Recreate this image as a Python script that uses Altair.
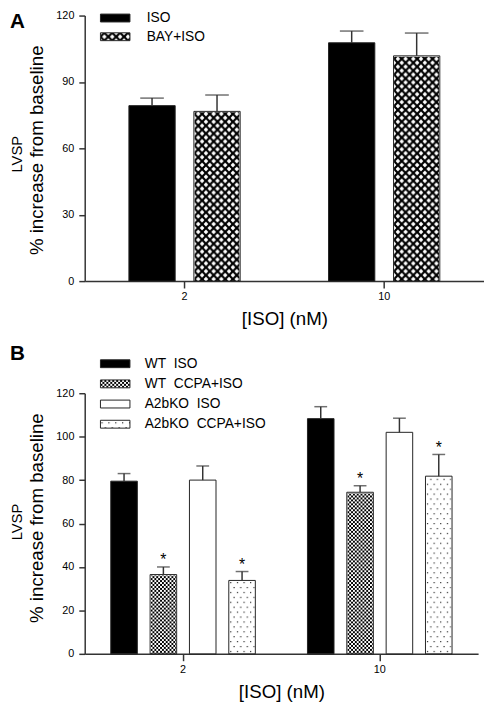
import base64
import altair as alt
import pandas as pd

FONT = "Liberation Sans"
AXC = "#333333"

# ---------------- data ----------------
conc = ["2", "10"]

a_series = ["ISO", "BAY+ISO"]
a_labels = ["ISO", "BAY+ISO"]
a_mean = {"ISO": [79.3, 107.7], "BAY+ISO": [76.7, 101.8]}
a_err = {"ISO": [82.7, 113.0], "BAY+ISO": [84.1, 112.1]}

b_series = ["WT ISO", "WT CCPA+ISO", "A2bKO ISO", "A2bKO CCPA+ISO"]
b_labels = ["WT\u00a0\u00a0ISO", "WT\u00a0\u00a0CCPA+ISO", "A2bKO\u00a0\u00a0ISO", "A2bKO\u00a0\u00a0CCPA+ISO"]
b_mean = {"WT ISO": [79.5, 108.3], "WT CCPA+ISO": [36.5, 74.4],
          "A2bKO ISO": [80.0, 102.0], "A2bKO CCPA+ISO": [33.8, 81.8]}
b_err = {"WT ISO": [83.0, 113.8], "WT CCPA+ISO": [40.0, 77.4],
         "A2bKO ISO": [86.5, 108.5], "A2bKO CCPA+ISO": [37.9, 91.8]}
b_sig = {"WT ISO": [False, False], "WT CCPA+ISO": [True, True],
         "A2bKO ISO": [False, False], "A2bKO CCPA+ISO": [True, True]}

a_ticks = [0, 30, 60, 90, 120]
b_ticks = [0, 20, 40, 60, 80, 100, 120]


# ---------------- fill patterns (SVG images) ----------------
def pattern_url(tile, tw, th, w, h):
    svg = (f'<svg xmlns="http://www.w3.org/2000/svg" width="{w}" height="{h}">'
           f'<defs><pattern id="p" width="{tw}" height="{th}" patternUnits="userSpaceOnUse">'
           f'{tile}</pattern></defs><rect width="{w}" height="{h}" fill="url(#p)"/></svg>')
    return "data:image/svg+xml;base64," + base64.b64encode(svg.encode()).decode()


CROSS = ('<rect width="8" height="8" fill="#000"/>'
         '<path d="M4,1.6L6.4,4L4,6.4L1.6,4Z M0,0H2.4L0,2.4Z M8,0V2.4L5.6,0Z '
         'M0,8V5.6L2.4,8Z M8,8H5.6L8,5.6Z" fill="#fff"/>')
CHECK = ('<rect width="4" height="4" fill="#fff"/>'
         '<rect width="2" height="2" fill="#000"/><rect x="2" y="2" width="2" height="2" fill="#000"/>')
DOTS = ('<rect width="7" height="10" fill="#fff"/>'
        '<rect x="1" y="2" width="1.2" height="1.2" fill="#222"/>'
        '<rect x="4.5" y="7" width="1.2" height="1.2" fill="#222"/>')


def build_df(series, mean, err, sig, pats):
    rows = []
    for s in series:
        for i, c in enumerate(conc):
            rows.append({"conc": c, "series": s, "mean": mean[s][i], "err": err[s][i],
                         "sig": bool(sig[s][i]) if sig else False,
                         "pat": pats.get(s, ""), "zero": 0, "top": 120})
    return pd.DataFrame(rows)


one = pd.DataFrame({"k": [0]})


def panel(df, series, labels, fills, legend_pats, W, H, bw, cap, sub_pi, sub_po,
          ticks, letter, leg_x, leg_tx, leg_y0, leg_dy, ytitle_y):
    xs = alt.Scale(domain=conc, paddingInner=0, paddingOuter=0)
    xax = alt.Axis(title="[ISO] (nM)", titleFont=FONT, titleFontSize=19, titleFontWeight="normal",
                   titleColor="#000", titlePadding=8, labelAngle=0, labelFont=FONT, labelFontSize=11,
                   labelColor="#000", labelPadding=3, tickSize=7, tickColor=AXC, tickWidth=1.5,
                   domainColor=AXC, domainWidth=1.5)
    yax = alt.Axis(values=ticks, title=None, grid=False, labelFont=FONT, labelFontSize=11,
                   labelColor="#000", labelPadding=5, tickSize=6, tickColor=AXC, tickWidth=1.5,
                   domainColor=AXC, domainWidth=1.5)
    ys = alt.Scale(domain=[0, 120], nice=False, zero=True)
    X = alt.X("conc:N", sort=conc, scale=xs, axis=xax)
    XO = alt.XOffset("series:N", sort=series,
                     scale=alt.Scale(domain=series, paddingInner=sub_pi, paddingOuter=sub_po))

    def Y(f):
        return alt.Y(f, type="quantitative", scale=ys, axis=yax)

    base = alt.Chart(df)
    patd = base.transform_filter("datum.pat != ''")

    img = patd.mark_image(width=bw - 1, height=H, align="center", baseline="bottom", aspect=False).encode(
        x=X, xOffset=XO, y=Y("zero"), url=alt.Url("pat:N"))
    cover = patd.mark_bar(fill="white", stroke="white", strokeWidth=2).encode(
        x=X, xOffset=XO, y=Y("mean"), y2="top:Q")
    bars = base.mark_bar(stroke="#222", strokeWidth=1).encode(
        x=X, xOffset=XO, y=Y("mean"),
        fill=alt.Fill("series:N", scale=alt.Scale(domain=series, range=fills), legend=None))
    errl = base.mark_rule(color=AXC, strokeWidth=1.5).encode(
        x=X, xOffset=XO, y=Y("mean"), y2="err:Q")
    capm = base.mark_tick(color=AXC, thickness=1.5, size=cap).encode(
        x=X, xOffset=XO, y=Y("err"))
    star = base.transform_filter("datum.sig").mark_text(
        text="*", font=FONT, fontSize=16, dy=-7, baseline="middle", color="#000").encode(
        x=X, xOffset=XO, y=Y("err"))

    layers = [img, cover, bars, errl, capm, star]

    # legend
    o = alt.Chart(one)
    for i, (s, lab) in enumerate(zip(series, labels)):
        yc = leg_y0 + i * leg_dy
        col = fills[i]
        if legend_pats.get(s):
            layers.append(o.mark_image(width=30, height=8, align="left", baseline="top", aspect=False).encode(
                x=alt.value(leg_x), y=alt.value(yc - 4), url=alt.value(legend_pats[s])))
            col = "transparent"
        layers.append(o.mark_rect(fill=col, stroke="#222", strokeWidth=1).encode(
            x=alt.value(leg_x), x2=alt.value(leg_x + 30), y=alt.value(yc - 4), y2=alt.value(yc + 4)))
        layers.append(o.mark_text(text=lab, font=FONT, fontSize=14, align="left", baseline="middle",
                                  color="#000").encode(x=alt.value(leg_tx), y=alt.value(yc)))

    # y titles and panel letter
    layers.append(o.mark_text(text="LVSP", font=FONT, fontSize=15, angle=270, align="center",
                              baseline="middle", color="#000").encode(
        x=alt.value(-69), y=alt.value(ytitle_y + 4)))
    layers.append(o.mark_text(text="% increase from baseline", font=FONT, fontSize=19, angle=270,
                              align="center", baseline="middle", color="#000").encode(
        x=alt.value(-48), y=alt.value(ytitle_y)))
    layers.append(o.mark_text(text=letter[0], font=FONT, fontSize=21, fontWeight="bold", align="left",
                              baseline="middle", color="#000").encode(
        x=alt.value(-76), y=alt.value(letter[1])))

    return alt.layer(*layers).properties(width=W, height=H)


# panel A
A_W, A_H, A_BW = 406, 270, 47
a_pats = {"BAY+ISO": pattern_url(CROSS, 8, 8, A_BW, A_H)}
a_leg_pats = {"BAY+ISO": pattern_url(CROSS, 8, 8, 30, 8)}
dfa = build_df(a_series, a_mean, a_err, None, a_pats)
pa = panel(dfa, a_series, a_labels, ["#000000", "transparent"], a_leg_pats,
           A_W, A_H, A_BW, 24, 19 / 66, 0.68, a_ticks, ("A", 7), 16, 63, 2.5, 19, 137)

# panel B
B_W, B_H, B_BW = 400, 265, 27
b_pats = {"WT CCPA+ISO": pattern_url(CHECK, 4, 4, B_BW, B_H),
          "A2bKO CCPA+ISO": pattern_url(DOTS, 7, 10, B_BW, B_H)}
b_leg_pats = {"WT CCPA+ISO": pattern_url(CHECK, 4, 4, 30, 8),
              "A2bKO CCPA+ISO": pattern_url(DOTS, 7, 10, 30, 8)}
dfb = build_df(b_series, b_mean, b_err, b_sig, b_pats)
pb = panel(dfb, b_series, b_labels, ["#000000", "transparent", "#ffffff", "transparent"], b_leg_pats,
           B_W, B_H, B_BW, 13, 13 / 40, 0.6625, b_ticks, ("B", -40), 16, 61, -30, 20.5, 127)

chart = (
    alt.vconcat(pa, pb, spacing=15)
    .resolve_scale(x="independent", xOffset="independent", y="independent", fill="independent")
    .properties(padding={"left": 2, "top": -4.2, "right": 0, "bottom": 3})
    .configure_view(stroke=None)
)

chart.save("out.html", embed_options={"renderer": "svg", "actions": False})
